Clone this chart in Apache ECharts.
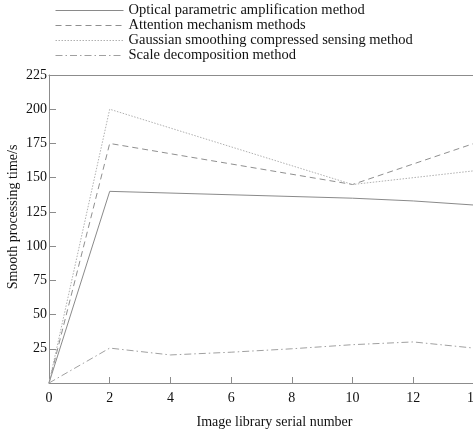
<!DOCTYPE html>
<html>
<head>
<meta charset="utf-8">
<script src="https://cdn.jsdelivr.net/npm/echarts@6/dist/echarts.min.js"></script>
<style>
  html, body { margin: 0; padding: 0; background: #fff; }
  #chart { width: 473px; height: 433px; }
</style>
</head>
<body>
<div id="chart"></div>
<script>
// data
const seriesNames = [
  'Optical parametric amplification method',
  'Attention mechanism methods',
  'Gaussian smoothing compressed sensing method',
  'Scale decomposition method'
];
const opticalData = [[0, 0], [2, 140], [10, 135], [12, 133], [14, 130]];
const attentionData = [[0, 0], [2, 175], [10, 145], [14, 175]];
const gaussianData = [[0, 0], [2, 200], [10, 145], [14, 155]];
const scaleData = [[0, 0], [2, 25.5], [4, 20.5], [6, 22.5], [8, 25], [10, 28], [12, 30], [14, 25.5]];

const font = '"Liberation Serif", "DejaVu Serif", serif';
const axisGray = '#8c8c8c';

const chart = echarts.init(document.getElementById('chart'));

// 每条线的样式
const styles = [
  { color: '#8a8a8a', type: 'solid' },
  { color: '#8f8f8f', type: [6, 4] },
  { color: '#b0b0b0', type: [1.5, 1.5] },
  { color: '#a0a0a0', type: [7, 3, 1.5, 3] }
];
const allData = [opticalData, attentionData, gaussianData, scaleData];

const option = {
  animation: false,
  textStyle: { fontFamily: font },
  legend: {
    orient: 'vertical',
    left: 50,
    top: -2,
    itemWidth: 68,
    itemHeight: 10,
    itemGap: 0,
    data: seriesNames,
    itemStyle: { opacity: 0 },
    lineStyle: { width: 1 },
    textStyle: { fontFamily: font, fontSize: 14.5, color: '#111', lineHeight: 14.5 }
  },
  grid: { left: 49, right: -1, top: 75, bottom: 50, containLabel: false, outerBoundsMode: 'none' },
  xAxis: [{
    type: 'value',
    min: 0,
    max: 14,
    interval: 2,
    name: 'Image library serial number',
    nameLocation: 'middle',
    nameGap: 32,
    nameMoveOverlap: false,
    nameTextStyle: { fontFamily: font, fontSize: 14, color: '#111', padding: [0, 0, 0, 26] },
    axisLine: { lineStyle: { color: axisGray, width: 1 } },
    axisTick: { inside: true, length: 6, lineStyle: { color: axisGray } },
    axisLabel: { fontFamily: font, fontSize: 14, color: '#111', margin: 8 },
    splitLine: { show: false }
  }, {
    type: 'value',
    position: 'top',
    min: 0,
    max: 14,
    axisLine: { show: true, onZero: false, lineStyle: { color: axisGray, width: 1 } },
    axisTick: { show: false },
    axisLabel: { show: false },
    splitLine: { show: false }
  }],
  yAxis: {
    type: 'value',
    min: 0,
    max: 225,
    interval: 25,
    name: 'Smooth processing time/s',
    nameLocation: 'middle',
    nameGap: 29,
    nameMoveOverlap: false,
    nameTextStyle: { fontFamily: font, fontSize: 14, color: '#111', padding: [0, 0, 0, 24] },
    axisLine: { show: true, lineStyle: { color: axisGray, width: 1 } },
    axisTick: { inside: true, length: 7, lineStyle: { color: axisGray } },
    axisLabel: {
      fontFamily: font, fontSize: 14, color: '#111', margin: 2,
      formatter: v => (v === 0 ? '' : v)
    },
    splitLine: { show: false }
  },
  series: seriesNames.map((name, i) => ({
    name: name,
    type: 'line',
    data: allData[i],
    symbol: 'none',
    lineStyle: { color: styles[i].color, type: styles[i].type, width: 1 },
    itemStyle: { color: styles[i].color }
  }))
};

chart.setOption(option);
</script>
</body>
</html>
